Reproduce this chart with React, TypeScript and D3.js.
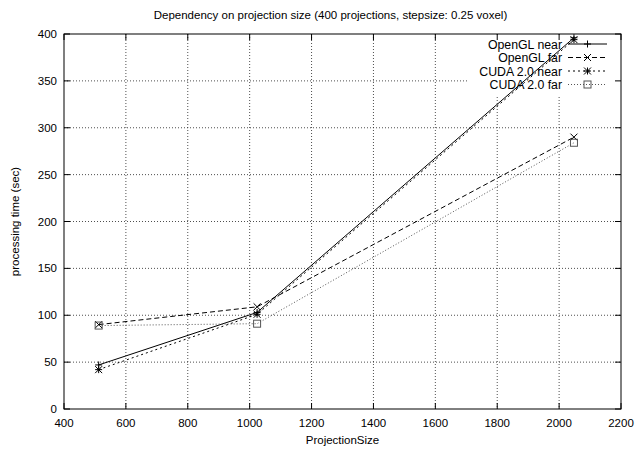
import React from "react";
import * as d3 from "d3";

const projectionSizes = [512, 1024, 2048];
const openglNear = [47, 103, 396];
const openglFar = [90, 109, 290];
const cudaNear = [42, 101, 394];
const cudaFar = [89, 91, 284];

const xTicks = [400, 600, 800, 1000, 1200, 1400, 1600, 1800, 2000, 2200];
const yTicks = [0, 50, 100, 150, 200, 250, 300, 350, 400];

const seriesList = [
  { name: "OpenGL near", values: openglNear, dash: "none", color: "#000", marker: "plus" },
  { name: "OpenGL far", values: openglFar, dash: "5,3", color: "#000", marker: "cross" },
  { name: "CUDA 2.0 near", values: cudaNear, dash: "2,3", color: "#000", marker: "star" },
  { name: "CUDA 2.0 far", values: cudaFar, dash: "1,2", color: "#555", marker: "box" },
];

const W = 637;
const H = 450;
const margin = { top: 34, right: 16, bottom: 41, left: 64 };
const font = "'Liberation Sans', Arial, sans-serif";

const Marker = ({ type, x, y, color }: { type: string; x: number; y: number; color: string }) => {
  const s = 3.5;
  const st = { stroke: color, strokeWidth: 1, fill: "none" };
  if (type === "plus")
    return <path d={`M${x - s},${y}H${x + s}M${x},${y - s}V${y + s}`} {...st} />;
  if (type === "cross")
    return <path d={`M${x - s},${y - s}L${x + s},${y + s}M${x - s},${y + s}L${x + s},${y - s}`} {...st} />;
  if (type === "star")
    return (
      <path
        d={`M${x - s},${y}H${x + s}M${x},${y - s}V${y + s}M${x - s},${y - s}L${x + s},${y + s}M${x - s},${y + s}L${x + s},${y - s}`}
        {...st}
      />
    );
  return <rect x={x - s} y={y - s} width={2 * s} height={2 * s} {...st} />;
};

export default function App() {
  const x = d3.scaleLinear().domain([400, 2200]).range([margin.left, W - margin.right]);
  const y = d3.scaleLinear().domain([0, 400]).range([H - margin.bottom, margin.top]);
  const line = d3
    .line<number>()
    .x((d, i) => x(projectionSizes[i]))
    .y((d) => y(d));

  const left = x.range()[0];
  const right = x.range()[1];
  const top = y.range()[1];
  const bottom = y.range()[0];
  const tick = 6;

  // legend layout
  const legTextX = 562;
  const legLine0 = 568;
  const legLine1 = 607;
  const legY0 = 44;
  const legStep = 13.5;

  return (
    <svg
      width={W}
      height={H}
      style={{ position: "absolute", left: 0, top: 0, background: "#fff" }}
      fontFamily={font}
    >
      <rect width={W} height={H} fill="#fff" />
      {/* grid */}
      {xTicks.slice(1, -1).map((t) => (
        <line key={"gx" + t} x1={x(t)} x2={x(t)} y1={top} y2={bottom} stroke="#222" strokeWidth={0.8} strokeDasharray="1,2" />
      ))}
      {yTicks.slice(1, -1).map((t) => (
        <line key={"gy" + t} x1={left} x2={right} y1={y(t)} y2={y(t)} stroke="#222" strokeWidth={0.8} strokeDasharray="1,2" />
      ))}
      {/* legend background */}
      <rect x={467} y={top + 1} width={right - 467 - 1} height={62} fill="#fff" />
      {/* ticks */}
      {xTicks.map((t) => (
        <g key={"tx" + t}>
          <line x1={x(t)} x2={x(t)} y1={bottom} y2={bottom - tick} stroke="#000" />
          <line x1={x(t)} x2={x(t)} y1={top} y2={top + tick} stroke="#000" />
          <text x={x(t)} y={bottom + 18} fontSize={11.5} textAnchor="middle">
            {t}
          </text>
        </g>
      ))}
      {yTicks.map((t) => (
        <g key={"ty" + t}>
          <line x1={left} x2={left + tick} y1={y(t)} y2={y(t)} stroke="#000" />
          <line x1={right} x2={right - tick} y1={y(t)} y2={y(t)} stroke="#000" />
          <text x={left - 7} y={y(t) + 4} fontSize={11.5} textAnchor="end">
            {t}
          </text>
        </g>
      ))}
      {/* series */}
      {seriesList.map((s) => (
        <g key={s.name}>
          <path d={line(s.values) || ""} fill="none" stroke={s.color} strokeWidth={1} strokeDasharray={s.dash} />
          {s.values.map((v, i) => (
            <Marker key={i} type={s.marker} x={x(projectionSizes[i])} y={y(v)} color={s.color} />
          ))}
        </g>
      ))}
      {/* legend */}
      {seriesList.map((s, i) => {
        const ly = legY0 + i * legStep;
        return (
          <g key={"leg" + s.name}>
            <text x={legTextX} y={ly + 4.5} fontSize={12.3} textAnchor="end">
              {s.name}
            </text>
            <line x1={legLine0} x2={legLine1} y1={ly} y2={ly} stroke={s.color} strokeDasharray={s.dash} />
            <Marker type={s.marker} x={(legLine0 + legLine1) / 2} y={ly} color={s.color} />
          </g>
        );
      })}
      {/* border */}
      <rect x={left} y={top} width={right - left} height={bottom - top} fill="none" stroke="#000" strokeWidth={1} />
      {/* titles */}
      <text x={W / 2 + 12} y={19} fontSize={11.5} textAnchor="middle">
        Dependency on projection size (400 projections, stepsize: 0.25 voxel)
      </text>
      <text x={(left + right) / 2} y={444} fontSize={11.5} textAnchor="middle">
        ProjectionSize
      </text>
      <text
        transform={`translate(19,${(top + bottom) / 2}) rotate(-90)`}
        fontSize={11.5}
        textAnchor="middle"
      >
        processing time (sec)
      </text>
    </svg>
  );
}
